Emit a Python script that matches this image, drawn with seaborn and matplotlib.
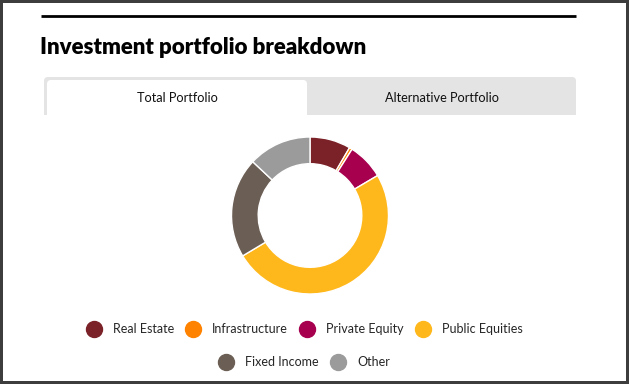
import matplotlib
matplotlib.use('Agg')
import matplotlib.pyplot as plt
from matplotlib.lines import Line2D
from matplotlib.patches import FancyBboxPatch, Rectangle
import seaborn as sns

# data (percent of total portfolio)
categories = ['Real Estate', 'Infrastructure', 'Private Equity',
              'Public Equities', 'Fixed Income', 'Other']
shares = [8.4, 0.6, 7.5, 49.9, 20.6, 13.0]
colors = ['#7b2229', '#ff8200', '#a6004f', '#ffb81c', '#6b5e55', '#9b9b9b']
tab_labels = ['Total Portfolio', 'Alternative Portfolio']
title = 'Investment portfolio breakdown'

sns.set_theme(style='white')
plt.rcParams['font.family'] = ['Lato', 'DejaVu Sans']
palette = sns.color_palette(colors)

W, H = 629, 384
fig = plt.figure(figsize=(W / 100, H / 100), dpi=100)
fig.patch.set_facecolor('#3d3d3d')

# background axes in pixel coordinates (y grows downward)
bg = fig.add_axes([0, 0, 1, 1])
bg.set_xlim(0, W)
bg.set_ylim(H, 0)
bg.axis('off')

bg.add_patch(Rectangle((3, 3), 623, 378, facecolor='white', edgecolor='none', zorder=0))
bg.plot([41, 576], [15.5, 15.5], color='black', lw=2, solid_capstyle='butt', zorder=1)
bg.text(40, 54, title, fontsize=16, fontweight='heavy', color='black', va='baseline', ha='left')

# tabs
bg.add_patch(FancyBboxPatch((44, 77), 532, 50, boxstyle='round,pad=0,rounding_size=4',
                            facecolor='#e4e4e4', edgecolor='none', zorder=1))
bg.add_patch(FancyBboxPatch((47, 80), 260, 50, boxstyle='round,pad=0,rounding_size=4',
                            facecolor='white', edgecolor='none', zorder=2))
bg.add_patch(Rectangle((40, 115), 545, 20, facecolor='white', edgecolor='none', zorder=3))
bg.text(177, 97.5, tab_labels[0], fontsize=9.2, ha='center', va='center', color='#111111', zorder=4)
bg.text(442, 97.5, tab_labels[1], fontsize=9.2, ha='center', va='center', color='#111111', zorder=4)

# legend, two centred rows
handles = [Line2D([], [], marker='o', linestyle='', markersize=11.5,
                  markerfacecolor=c, markeredgecolor=c) for c in palette]
leg_kw = dict(loc='center', frameon=False, fontsize=9, handletextpad=0.88,
              columnspacing=0.88, handlelength=1.28, bbox_transform=bg.transData)
leg1 = bg.legend(handles[:4], categories[:4], ncol=4, bbox_to_anchor=(304, 329), **leg_kw)
bg.add_artist(leg1)
bg.legend(handles[4:], categories[4:], ncol=2, bbox_to_anchor=(304, 362), **leg_kw)

# donut
cx, cy, r = 310, 215.5, 78.5
ax = fig.add_axes([(cx - r) / W, 1 - (cy + r) / H, 2 * r / W, 2 * r / H])
ax.pie(shares, colors=palette, startangle=90, counterclock=False,
       wedgeprops=dict(width=0.34, edgecolor='white', linewidth=1))
ax.set_xlim(-1.0, 1.0)
ax.set_ylim(-1.0, 1.0)
ax.set_aspect('equal')
ax.axis('off')

fig.savefig('out.png', dpi=100, facecolor=fig.get_facecolor())
